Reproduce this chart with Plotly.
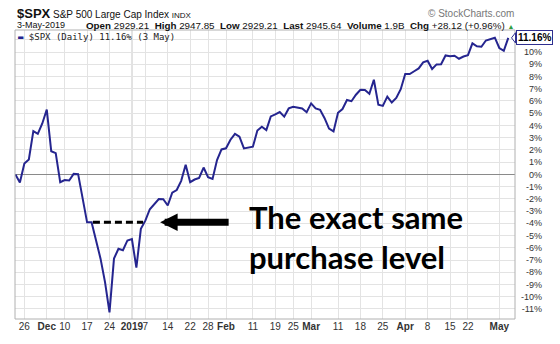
import plotly.graph_objects as go

# ---------------- data ----------------
dates = [
    "2018-11-21", "2018-11-23", "2018-11-26", "2018-11-27", "2018-11-28", "2018-11-29", "2018-11-30",
    "2018-12-03", "2018-12-04", "2018-12-06", "2018-12-07", "2018-12-10", "2018-12-11", "2018-12-12",
    "2018-12-13", "2018-12-14", "2018-12-17", "2018-12-18", "2018-12-19", "2018-12-20", "2018-12-21",
    "2018-12-24", "2018-12-26", "2018-12-27", "2018-12-28", "2018-12-31",
    "2019-01-02", "2019-01-03", "2019-01-04", "2019-01-07", "2019-01-08", "2019-01-09", "2019-01-10",
    "2019-01-11", "2019-01-14", "2019-01-15", "2019-01-16", "2019-01-17", "2019-01-18", "2019-01-22",
    "2019-01-23", "2019-01-24", "2019-01-25", "2019-01-28", "2019-01-29", "2019-01-30", "2019-01-31",
    "2019-02-01", "2019-02-04", "2019-02-05", "2019-02-06", "2019-02-07", "2019-02-08", "2019-02-11",
    "2019-02-12", "2019-02-13", "2019-02-14", "2019-02-15", "2019-02-19", "2019-02-20", "2019-02-21",
    "2019-02-22", "2019-02-25", "2019-02-26", "2019-02-27", "2019-02-28",
    "2019-03-01", "2019-03-04", "2019-03-05", "2019-03-06", "2019-03-07", "2019-03-08", "2019-03-11",
    "2019-03-12", "2019-03-13", "2019-03-14", "2019-03-15", "2019-03-18", "2019-03-19", "2019-03-20",
    "2019-03-21", "2019-03-22", "2019-03-25", "2019-03-26", "2019-03-27", "2019-03-28", "2019-03-29",
    "2019-04-01", "2019-04-02", "2019-04-03", "2019-04-04", "2019-04-05", "2019-04-08", "2019-04-09",
    "2019-04-10", "2019-04-11", "2019-04-12", "2019-04-15", "2019-04-16", "2019-04-17", "2019-04-18",
    "2019-04-22", "2019-04-23", "2019-04-24", "2019-04-25", "2019-04-26", "2019-04-29", "2019-04-30",
    "2019-05-01", "2019-05-02", "2019-05-03",
]
pct_change = [
    0.00, -0.66, 0.89, 1.22, 3.54, 3.31, 4.16,
    5.30, 1.89, 1.74, -0.64, -0.46, -0.50, 0.04,
    0.02, -1.89, -3.92, -3.92, -5.40, -6.89, -8.80,
    -11.28, -6.88, -6.08, -6.20, -5.40,
    -5.28, -7.62, -4.45, -3.78, -2.85, -2.45, -2.01,
    -2.03, -2.54, -1.50, -1.28, -0.53, 0.78, -0.64,
    -0.42, -0.29, 0.56, -0.23, -0.37, 1.17, 2.04,
    2.13, 2.83, 3.31, 3.08, 2.12, 2.19, 2.26,
    3.58, 3.89, 3.62, 4.74, 4.90, 5.09, 4.72,
    5.39, 5.52, 5.43, 5.38, 5.08,
    5.80, 5.39, 5.27, 4.59, 3.74, 3.51, 5.03,
    5.34, 6.08, 5.98, 6.51, 6.91, 6.89, 6.58,
    7.73, 5.69, 5.60, 6.36, 5.87, 6.25, 6.96,
    8.20, 8.20, 8.43, 8.66, 9.16, 9.28, 8.61,
    8.99, 9.00, 9.72, 9.65, 9.70, 9.45, 9.63,
    9.74, 10.71, 10.47, 10.43, 10.94, 11.06, 11.17,
    10.33, 10.10, 11.16,
]

x_tick_dates = ["2018-11-26", "2018-12-03", "2018-12-10", "2018-12-17", "2018-12-24", "2019-01-02",
                "2019-01-07", "2019-01-14", "2019-01-22", "2019-01-28", "2019-02-01", "2019-02-11",
                "2019-02-19", "2019-02-25", "2019-03-01", "2019-03-11", "2019-03-18", "2019-03-25",
                "2019-04-01", "2019-04-08", "2019-04-15", "2019-04-22", "2019-05-01"]
x_tick_labels = ["26", "<b>Dec</b>", "10", "17", "24", "<b>2019</b>", "7", "14", "22", "28", "<b>Feb</b>",
                 "11", "19", "25", "<b>Mar</b>", "11", "18", "25", "<b>Apr</b>", "8", "15", "22", "<b>May</b>"]
y_tick_vals = list(range(-11, 12))
y_tick_labels = [f"{v}%" for v in y_tick_vals[:-1]] + [""]

symbol = "$SPX"
symbol_name = "S&P 500 Large Cap Index"
exchange = "INDX"
quote_date = "3-May-2019"
quote_open, quote_high, quote_low, quote_last = "2929.21", "2947.85", "2929.21", "2945.64"
quote_volume, quote_chg, quote_chg_pct = "1.9B", "+28.12", "+0.96%"
purchase_level_date = "2018-12-17"
annotation_text = "The exact same<br>purchase level"

LINE = "#25258f"
FONT = "Liberation Sans, Arial, sans-serif"

fig = go.Figure()
fig.add_trace(go.Scatter(x=dates, y=pct_change, mode="lines",
                         line=dict(color=LINE, width=2), showlegend=False, hoverinfo="skip"))

XDOM = (515 - 15) / 527.0

fig.update_layout(
    width=560, height=344,
    margin=dict(l=15, r=18, t=30, b=17),
    paper_bgcolor="white", plot_bgcolor="white",
    xaxis=dict(type="category", categoryorder="array", categoryarray=dates,
               domain=[0, XDOM], range=[-0.09, 111.5],
               tickvals=x_tick_dates, ticktext=x_tick_labels, tickangle=0,
               showgrid=True, gridcolor="#e3e3e3", gridwidth=1,
               ticks="", tickfont=dict(family=FONT, size=10, color="#333"),
               showline=False, zeroline=False, fixedrange=True),
    yaxis=dict(range=[-11.82, 11.8], anchor="free", position=1.0, side="left",
               tickvals=y_tick_vals, ticktext=y_tick_labels,
               showgrid=True, gridcolor="#e3e3e3", gridwidth=1,
               zeroline=True, zerolinecolor="#8a8a8a", zerolinewidth=1,
               ticks="", tickfont=dict(family=FONT, size=9, color="#333"),
               showline=False, fixedrange=True),
)

# plot border and year separator
fig.add_shape(type="rect", xref="x domain", yref="y domain", x0=0, x1=1, y0=0, y1=1,
              line=dict(color="#b0b0b0", width=1), layer="above")
fig.add_shape(type="line", xref="x", yref="y domain", x0=dates.index("2019-01-02"),
              x1=dates.index("2019-01-02"), y0=0, y1=1, line=dict(color="#b5b5b5", width=1), layer="below")

# dashed purchase-level line
lvl = pct_change[dates.index(purchase_level_date)]
fig.add_shape(type="line", xref="x", yref="y", x0=17.3, x1=28.5, y0=lvl, y1=lvl,
              line=dict(color="black", width=3, dash="7px,4px"))

# arrow
fig.add_annotation(x=32.3, y=lvl, xref="x", yref="y", text="", showarrow=True,
                   ax=70, ay=0, axref="pixel", ayref="pixel",
                   arrowhead=2, arrowsize=0.5, arrowwidth=7, arrowcolor="black")

# big text
fig.add_annotation(x=(247 - 15) / 527.0, y=(327 - 243) / 297.0, xref="paper", yref="paper",
                   text=f"<b>{annotation_text}</b>", showarrow=False, xanchor="left", yanchor="middle",
                   align="left", font=dict(family="Lato, Open Sans, sans-serif", size=31, color="black"))

# legend-like label
fig.add_annotation(x=0.002, y=(327 - 37) / 297.0, xref="paper", yref="paper", showarrow=False,
                   xanchor="left", yanchor="middle",
                   text=f"<span style='color:{LINE}'>▬</span> {symbol} (Daily) {pct_change[-1]:.2f}% (3 May)",
                   font=dict(family="DejaVu Sans Mono, monospace", size=9, color="#222"))

# last value tag (with small pointer)
last = pct_change[-1]
tag_left = (515.5 - 15) / 527.0
tip = (511.5 - 15) / 527.0
fig.add_shape(type="path", xref="paper", yref="y",
              path=f"M {tag_left},{last + 0.42} L {tip},{last} L {tag_left},{last - 0.42} Z",
              fillcolor="white", line=dict(color="#2f2f8f", width=1), layer="above")
fig.add_annotation(x=tag_left, y=last, xref="paper", yref="y", showarrow=False,
                   xanchor="left", yanchor="middle", text=f"<b>{last:.2f}%</b>",
                   font=dict(family=FONT, size=10, color="black"), bgcolor="white",
                   bordercolor="#2f2f8f", borderwidth=1, borderpad=1)

# header text
fig.add_annotation(x=0, y=(327 - 13) / 297.0, xref="paper", yref="paper", showarrow=False,
                   xanchor="left", yanchor="middle",
                   text=f"<b><span style='font-size:13px'>{symbol}</span></b> {symbol_name} <span style='font-size:8px'>{exchange}</span>",
                   font=dict(family=FONT, size=10, color="#111"))
fig.add_annotation(x=0, y=(327 - 25) / 297.0, xref="paper", yref="paper", showarrow=False,
                   xanchor="left", yanchor="middle", text=quote_date,
                   font=dict(family=FONT, size=9, color="#111"))
header = (f"<b>Open</b> {quote_open}&nbsp;&nbsp;<b>High</b> {quote_high}&nbsp;&nbsp;<b>Low</b> {quote_low}"
          f"&nbsp;&nbsp;<b>Last</b> {quote_last}&nbsp;&nbsp;<b>Volume</b> {quote_volume}&nbsp;&nbsp;"
          f"<b>Chg</b> {quote_chg} ({quote_chg_pct}) <span style='color:#2e9e3e;font-size:7px'>▲</span>")
fig.add_annotation(x=(516 - 15) / 527.0, y=(327 - 25) / 297.0, xref="paper", yref="paper", showarrow=False,
                   xanchor="right", yanchor="middle", text=header,
                   font=dict(family=FONT, size=9.8, color="#111"))
fig.add_annotation(x=(516 - 15) / 527.0, y=(327 - 13) / 297.0, xref="paper", yref="paper", showarrow=False,
                   xanchor="right", yanchor="middle", text="© StockCharts.com",
                   font=dict(family=FONT, size=10, color="#777"))

fig.write_html("out.html")
